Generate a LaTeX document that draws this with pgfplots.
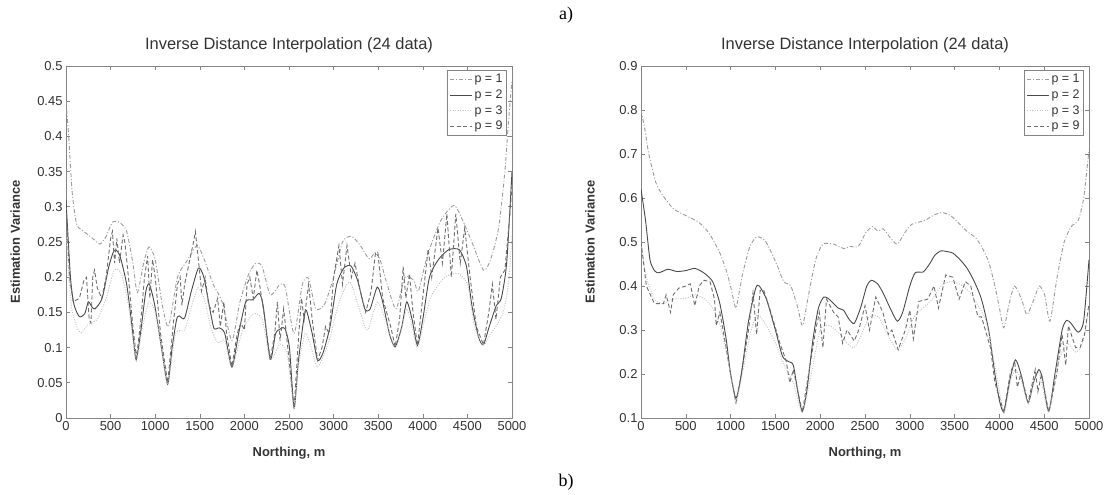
\documentclass[border=0pt]{standalone}
\usepackage{pgfplots}
\pgfplotsset{compat=1.18}
\usepackage{fontspec}
\setmainfont{Liberation Sans}
\newfontfamily\timesfont{Liberation Serif}
\definecolor{axgray}{HTML}{858585}
\definecolor{txt}{HTML}{333333}
\definecolor{cpone}{HTML}{9C9C9C}
\definecolor{cptwo}{HTML}{4A4A4A}
\definecolor{cpthree}{HTML}{C4C4C4}
\definecolor{cpnine}{HTML}{6E6E6E}
\pgfplotsset{
  idw/.style={
    scale only axis, height=352bp,
    xmin=0, xmax=5000, xtick={0,500,1000,1500,2000,2500,3000,3500,4000,4500,5000},
    scaled x ticks=false, scaled y ticks=false,
    /pgf/number format/1000 sep={},
    /pgf/number format/fixed,
    /pgf/number format/assume math mode=true,
    tick label style={font=\fontsize{13}{15}\selectfont, text=txt},
    axis line style={axgray, line width=0.8bp},
    tick style={axgray, line width=0.6bp},
    major tick length=4bp,
    tick align=inside, tick pos=both,
    title style={font=\fontsize{16.5}{19}\selectfont, text=txt, at={(0.5,1)}, anchor=base, yshift=11bp},
    xlabel={Northing, m}, ylabel={Estimation Variance},
    xlabel style={font=\bfseries\fontsize{13}{15}\selectfont, text=txt, at={(0.5,0)}, anchor=base, yshift=-39bp},
    ylabel style={font=\bfseries\fontsize{13}{15}\selectfont, text=txt, at={(-0.114,0.5)}, anchor=center},
    legend style={at={(1,1)}, xshift=-5bp, yshift=-4bp, anchor=north east, draw=axgray, fill=white,
      font=\fontsize{12.5}{13}\selectfont, text=txt, inner sep=2bp, row sep=1.5bp,
      line width=0.8bp},
    legend cell align=left,
    legend image code/.code={\draw[#1] (0bp,0bp) -- (22bp,0bp);},
    every axis plot/.append style={line width=0.9bp},
  },
  pone/.style={cpone, dash pattern=on 4bp off 2bp on 1bp off 2bp},
  ptwo/.style={cptwo, solid},
  pthree/.style={cpthree, dash pattern=on 1bp off 1.5bp},
  pnine/.style={cpnine, dash pattern=on 4bp off 2.5bp},
}
\begin{document}
\begin{tikzpicture}
\useasboundingbox (0,0) rectangle (1105bp,495bp);
\fill[white] (0,0) rectangle (1105bp,495bp);
\node[font=\timesfont\fontsize{18}{20}\selectfont] at (566bp,480bp) {a)};
\node[font=\timesfont\fontsize{18}{20}\selectfont] at (566bp,13bp) {b)};
% ---------------- left ----------------
\begin{axis}[idw, at={(66bp,77bp)}, anchor=south west, width=446bp,
  ymin=0, ymax=0.5, ytick={0,0.05,0.1,0.15,0.2,0.25,0.3,0.35,0.4,0.45,0.5},
  title={Inverse Distance Interpolation (24 data)}]
\addplot[pone, smooth, tension=0.4] coordinates {
(0,0.45) (30,0.4) (70,0.32) (120,0.275) (200,0.265) (300,0.255) (380,0.247) (450,0.258) (520,0.278) (600,0.278) (680,0.265) (750,0.22) (800,0.178) (870,0.22) (930,0.243) (1000,0.225) (1080,0.16) (1150,0.13) (1250,0.2) (1350,0.222) (1470,0.245) (1550,0.225) (1650,0.19) (1750,0.165) (1860,0.11) (1950,0.165) (2050,0.205) (2130,0.22) (2200,0.215) (2290,0.175) (2400,0.19) (2460,0.185) (2557,0.12) (2650,0.19) (2720,0.198) (2800,0.155) (2900,0.162) (3000,0.2) (3100,0.25) (3200,0.258) (3300,0.245) (3400,0.226) (3490,0.236) (3600,0.19) (3700,0.155) (3800,0.2) (3900,0.195) (3950,0.18) (4050,0.23) (4200,0.28) (4350,0.302) (4450,0.28) (4550,0.25) (4680,0.21) (4760,0.225) (4850,0.27) (4920,0.35) (4960,0.42) (5000,0.48)};
\addlegendentry{p = 1}
\addplot[ptwo, smooth, tension=0.4] coordinates {
(0,0.31) (50,0.2) (90,0.161) (150,0.144) (210,0.148) (250,0.165) (290,0.158) (325,0.155) (405,0.17) (480,0.215) (540,0.238) (600,0.232) (680,0.19) (740,0.13) (785,0.083) (835,0.12) (895,0.18) (935,0.19) (995,0.16) (1070,0.1) (1140,0.048) (1190,0.1) (1240,0.14) (1270,0.145) (1330,0.142) (1405,0.18) (1485,0.213) (1545,0.2) (1620,0.15) (1660,0.127) (1720,0.128) (1780,0.12) (1860,0.072) (1935,0.12) (2015,0.165) (2095,0.168) (2165,0.177) (2210,0.16) (2290,0.083) (2350,0.12) (2410,0.127) (2455,0.127) (2505,0.1) (2557,0.014) (2605,0.08) (2665,0.14) (2695,0.153) (2760,0.12) (2820,0.082) (2880,0.092) (2960,0.13) (3035,0.19) (3115,0.213) (3195,0.216) (3270,0.195) (3350,0.155) (3410,0.155) (3490,0.186) (3550,0.165) (3625,0.12) (3690,0.101) (3765,0.13) (3820,0.165) (3880,0.14) (3940,0.103) (4000,0.14) (4075,0.2) (4175,0.225) (4290,0.239) (4410,0.239) (4490,0.215) (4550,0.16) (4625,0.115) (4680,0.104) (4745,0.13) (4825,0.16) (4880,0.17) (4940,0.22) (5000,0.35)};
\addlegendentry{p = 2}
\addplot[pthree, smooth, tension=0.4] coordinates {
(0,0.26) (60,0.16) (120,0.13) (170,0.121) (250,0.133) (350,0.14) (450,0.17) (540,0.21) (620,0.205) (700,0.16) (785,0.083) (860,0.13) (930,0.165) (1000,0.15) (1070,0.1) (1140,0.048) (1230,0.12) (1330,0.125) (1400,0.155) (1480,0.185) (1560,0.165) (1620,0.13) (1700,0.107) (1780,0.11) (1860,0.072) (1980,0.125) (2100,0.148) (2200,0.14) (2290,0.083) (2400,0.105) (2480,0.09) (2557,0.014) (2600,0.07) (2680,0.12) (2750,0.1) (2820,0.072) (2950,0.11) (3050,0.16) (3150,0.19) (3200,0.19) (3300,0.15) (3380,0.125) (3490,0.165) (3580,0.14) (3690,0.1) (3760,0.125) (3820,0.155) (3880,0.13) (3940,0.1) (4020,0.14) (4100,0.175) (4250,0.2) (4400,0.205) (4500,0.19) (4580,0.13) (4680,0.104) (4760,0.12) (4820,0.13) (4900,0.15) (4960,0.19) (5000,0.26)};
\addlegendentry{p = 3}
\addplot[pnine] coordinates {
(0,0.3) (40,0.2) (80,0.165) (150,0.17) (200,0.195) (230,0.2) (260,0.14) (280,0.135) (300,0.2) (320,0.21) (350,0.185) (400,0.17) (450,0.2) (500,0.255) (520,0.265) (545,0.22) (570,0.255) (600,0.22) (640,0.26) (660,0.25) (700,0.2) (750,0.13) (790,0.085) (840,0.14) (880,0.2) (915,0.23) (940,0.17) (970,0.225) (1000,0.2) (1060,0.12) (1140,0.05) (1200,0.13) (1250,0.19) (1280,0.2) (1300,0.16) (1330,0.19) (1380,0.22) (1430,0.25) (1450,0.265) (1480,0.23) (1520,0.18) (1560,0.2) (1600,0.16) (1650,0.15) (1700,0.17) (1730,0.13) (1770,0.165) (1800,0.12) (1860,0.073) (1920,0.12) (1960,0.135) (2000,0.125) (2030,0.19) (2060,0.2) (2100,0.17) (2140,0.21) (2170,0.19) (2230,0.14) (2290,0.083) (2340,0.12) (2370,0.165) (2400,0.11) (2440,0.155) (2470,0.12) (2557,0.014) (2610,0.12) (2640,0.17) (2670,0.14) (2720,0.19) (2760,0.14) (2820,0.082) (2870,0.1) (2910,0.13) (2950,0.12) (3000,0.2) (3060,0.245) (3100,0.19) (3150,0.245) (3200,0.2) (3240,0.22) (3300,0.18) (3360,0.15) (3420,0.18) (3470,0.235) (3500,0.23) (3550,0.17) (3640,0.13) (3690,0.101) (3740,0.14) (3780,0.215) (3810,0.17) (3850,0.205) (3890,0.15) (3940,0.103) (3990,0.16) (4060,0.24) (4100,0.2) (4170,0.27) (4220,0.22) (4270,0.29) (4320,0.2) (4370,0.29) (4420,0.22) (4470,0.27) (4530,0.2) (4600,0.13) (4680,0.104) (4740,0.15) (4780,0.19) (4820,0.14) (4870,0.2) (4920,0.21) (4970,0.28) (5000,0.33)};
\addlegendentry{p = 9}
\end{axis}
% ---------------- right ----------------
\begin{axis}[idw, at={(641bp,77bp)}, anchor=south west, width=448bp,
  ymin=0.1, ymax=0.9, ytick={0.1,0.2,0.3,0.4,0.5,0.6,0.7,0.8,0.9},
  title={Inverse Distance Interpolation (24 data)}]
\addplot[pone, smooth, tension=0.4] coordinates {
(0,0.8) (40,0.76) (87,0.7) (166,0.635) (246,0.605) (364,0.575) (500,0.56) (642,0.545) (760,0.52) (880,0.475) (960,0.43) (1010,0.39) (1058,0.35) (1100,0.39) (1137,0.43) (1216,0.49) (1296,0.512) (1395,0.5) (1513,0.45) (1593,0.41) (1672,0.4) (1751,0.35) (1803,0.31) (1870,0.38) (1950,0.46) (2030,0.495) (2150,0.495) (2266,0.485) (2325,0.49) (2425,0.49) (2505,0.52) (2583,0.535) (2643,0.525) (2702,0.53) (2781,0.51) (2860,0.495) (2940,0.52) (3019,0.54) (3098,0.545) (3178,0.55) (3257,0.56) (3356,0.567) (3455,0.56) (3534,0.545) (3633,0.525) (3732,0.51) (3800,0.49) (3880,0.455) (3950,0.4) (4000,0.35) (4049,0.305) (4109,0.36) (4168,0.4) (4247,0.37) (4307,0.335) (4386,0.37) (4445,0.4) (4505,0.38) (4564,0.32) (4644,0.42) (4723,0.5) (4802,0.535) (4881,0.55) (4941,0.6) (5000,0.71)};
\addlegendentry{p = 1}
\addplot[ptwo, smooth, tension=0.4] coordinates {
(0,0.62) (50,0.55) (100,0.46) (150,0.435) (200,0.43) (300,0.438) (400,0.433) (500,0.435) (600,0.44) (700,0.43) (800,0.41) (880,0.36) (950,0.28) (1000,0.2) (1060,0.145) (1120,0.2) (1200,0.32) (1280,0.395) (1320,0.4) (1400,0.37) (1500,0.3) (1580,0.24) (1650,0.228) (1700,0.22) (1750,0.16) (1800,0.115) (1850,0.16) (1920,0.28) (1980,0.35) (2040,0.375) (2100,0.37) (2200,0.35) (2260,0.345) (2320,0.325) (2380,0.315) (2450,0.35) (2520,0.4) (2570,0.413) (2640,0.405) (2700,0.385) (2780,0.35) (2860,0.32) (2920,0.34) (3000,0.4) (3060,0.43) (3150,0.432) (3220,0.45) (3280,0.47) (3350,0.48) (3420,0.478) (3480,0.475) (3560,0.46) (3640,0.44) (3720,0.41) (3800,0.37) (3880,0.3) (3950,0.2) (4000,0.14) (4050,0.115) (4120,0.19) (4180,0.232) (4240,0.2) (4320,0.135) (4380,0.18) (4440,0.21) (4480,0.19) (4550,0.115) (4620,0.2) (4700,0.3) (4750,0.322) (4800,0.315) (4880,0.295) (4940,0.32) (5000,0.46)};
\addlegendentry{p = 2}
\addplot[pthree, smooth, tension=0.4] coordinates {
(0,0.5) (60,0.42) (150,0.37) (250,0.36) (350,0.37) (500,0.372) (600,0.38) (700,0.372) (800,0.35) (900,0.3) (1000,0.2) (1060,0.135) (1130,0.2) (1230,0.3) (1300,0.335) (1400,0.31) (1500,0.27) (1600,0.22) (1700,0.18) (1800,0.113) (1900,0.2) (2000,0.3) (2100,0.31) (2200,0.295) (2300,0.27) (2380,0.26) (2450,0.285) (2550,0.33) (2650,0.33) (2750,0.29) (2860,0.255) (2950,0.28) (3050,0.33) (3150,0.35) (3250,0.37) (3350,0.4) (3450,0.41) (3550,0.405) (3650,0.39) (3750,0.36) (3850,0.32) (3950,0.22) (4050,0.113) (4120,0.18) (4180,0.21) (4250,0.18) (4320,0.135) (4400,0.19) (4450,0.2) (4550,0.113) (4650,0.22) (4750,0.27) (4850,0.25) (4930,0.27) (5000,0.35)};
\addlegendentry{p = 3}
\addplot[pnine] coordinates {
(0,0.5) (60,0.4) (150,0.36) (250,0.36) (280,0.38) (330,0.34) (360,0.38) (420,0.395) (500,0.4) (550,0.405) (600,0.355) (650,0.4) (700,0.413) (770,0.41) (820,0.37) (840,0.31) (880,0.34) (950,0.26) (1000,0.2) (1060,0.135) (1120,0.2) (1200,0.3) (1250,0.385) (1290,0.29) (1330,0.39) (1370,0.39) (1450,0.34) (1550,0.27) (1620,0.23) (1660,0.18) (1700,0.21) (1800,0.113) (1870,0.2) (1950,0.3) (1990,0.34) (2030,0.26) (2070,0.37) (2150,0.34) (2200,0.33) (2250,0.27) (2300,0.3) (2380,0.275) (2430,0.3) (2500,0.355) (2550,0.3) (2620,0.375) (2700,0.34) (2760,0.29) (2800,0.3) (2870,0.255) (2950,0.3) (3000,0.345) (3040,0.28) (3100,0.365) (3200,0.37) (3270,0.4) (3320,0.35) (3400,0.425) (3480,0.42) (3550,0.37) (3620,0.41) (3680,0.4) (3760,0.33) (3800,0.33) (3900,0.26) (3950,0.18) (4050,0.113) (4120,0.2) (4170,0.23) (4200,0.17) (4240,0.2) (4320,0.135) (4400,0.21) (4430,0.16) (4470,0.2) (4550,0.113) (4640,0.2) (4700,0.29) (4740,0.22) (4770,0.31) (4850,0.26) (4900,0.26) (4950,0.29) (5000,0.36)};
\addlegendentry{p = 9}
\end{axis}
\end{tikzpicture}
\end{document}
